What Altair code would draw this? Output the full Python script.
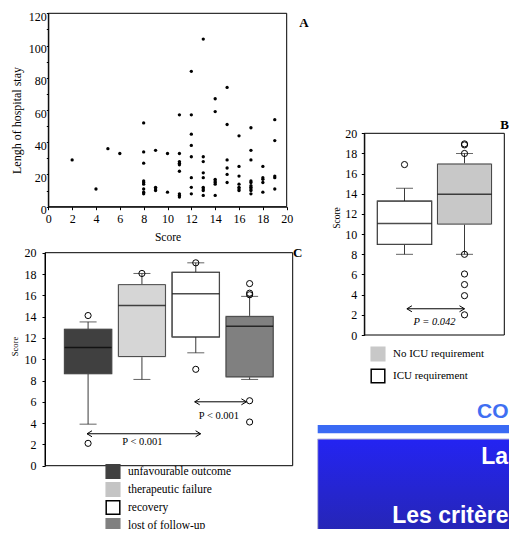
import altair as alt
import pandas as pd

W = 501
H = 521

# ---------------- Panel A : scatter ----------------
A_score = [2, 4, 5, 6,
           8, 8, 8, 8, 8, 8, 8, 8, 8,
           9, 9, 9, 9,
           10, 10,
           11, 11, 11, 11, 11, 11, 11, 11, 11,
           12, 12, 12, 12, 12, 12, 12, 12,
           13, 13, 13, 13, 13, 13, 13, 13, 13,
           14, 14, 14, 14, 14, 14, 14,
           15, 15, 15, 15, 15, 15,
           16, 16, 16, 16, 16, 16, 16,
           17, 17, 17, 17, 17, 17, 17, 17, 17, 17,
           18, 18, 18, 18, 18,
           19, 19, 19, 19, 19]
A_stay = [29, 11, 36, 33,
          52, 34, 27, 16, 15, 14, 11, 9, 8,
          35, 12, 11, 10,
          33, 9,
          57, 33, 28, 27, 26, 22, 8, 7, 6,
          84, 57, 45, 38, 31, 18, 12, 8,
          104, 31, 28, 21, 18, 12, 11, 10, 7,
          67, 59, 17, 16, 15, 14, 7,
          74, 51, 29, 24, 20, 15,
          44, 25, 19, 14, 12, 11, 10,
          49, 35, 29, 16, 15, 13, 12, 11, 10, 8,
          25, 18, 17, 15, 9,
          54, 41, 19, 18, 11]
A_xdom = [0, 20]
A_ydom = [0, 120]
A_xticks = list(range(0, 21, 1))
A_yticks = list(range(0, 121, 5))

# ---------------- Panel B : ICU boxplot ----------------
B_groups = ["ICU requirement", "No ICU requirement"]
B_q1 = [9.0, 11.0]
B_med = [11.05, 13.95]
B_q3 = [13.25, 16.95]
B_lo = [8.0, 8.0]
B_hi = [14.55, 18.0]
B_out_group = ["ICU requirement", "No ICU requirement", "No ICU requirement",
               "No ICU requirement", "No ICU requirement", "No ICU requirement",
               "No ICU requirement", "No ICU requirement", "No ICU requirement"]
B_out_val = [16.9, 18.95, 18.85, 18.0, 8.0, 6.05, 5.0, 3.9, 2.0]
B_legend_order = ["No ICU requirement", "ICU requirement"]
B_plot_fill = ["#ffffff", "#c8c8c8"]
B_fill = ["#c8c8c8", "#ffffff"]
B_stroke = ["#c8c8c8", "#000000"]
B_arrow_from = [1.04]
B_arrow_to = [2.0]
B_arrow_y = [2.6]
B_ptext = ["P = 0.042"]
B_ptext_x = [1.5]
B_ptext_y = [1.3]
B_xdom = [0.33, 2.663]
B_ydom = [0, 20]

# ---------------- Panel C : outcome boxplot ----------------
C_groups = ["unfavourable outcome", "therapeutic failure", "recovery", "lost of follow-up"]
C_q1 = [8.65, 10.25, 12.1, 8.35]
C_med = [11.1, 15.05, 16.15, 13.1]
C_q3 = [12.8, 17.0, 18.15, 14.0]
C_lo = [3.9, 8.1, 10.6, 8.1]
C_hi = [13.5, 18.05, 19.05, 15.9]
C_out_group = ["unfavourable outcome", "unfavourable outcome", "therapeutic failure",
               "recovery", "recovery", "lost of follow-up", "lost of follow-up",
               "lost of follow-up", "lost of follow-up", "lost of follow-up"]
C_out_val = [14.1, 2.1, 18.05, 19.05, 9.05, 17.1, 16.2, 16.05, 6.1, 4.1]
C_plot_fill = ["#404040", "#d6d6d6", "#ffffff", "#808080"]
C_legend_fill = ["#404040", "#c4c4c4", "#ffffff", "#808080"]
C_stroke = ["#404040", "#c4c4c4", "#000000", "#808080"]
C_arrow_from = [0.98, 2.98]
C_arrow_to = [3.09, 3.94]
C_arrow_y = [3.0, 6.0]
C_ptext = ["P < 0.001", "P < 0.001"]
C_ptext_x = [2.01, 3.43]
C_ptext_y = [2.25, 4.7]
C_xdom = [0.2, 4.8]
C_ydom = [0, 20]
S_ticks = list(range(0, 21, 1))

SERIF = "Liberation Serif"
SANS = "Liberation Sans"
EVEN = "datum.value % 2 == 0 ? datum.label : ''"


def axis(**kw):
    base = dict(grid=False, domainColor="black", tickColor="black", labelColor="black",
                titleColor="black", labelFont=SERIF, titleFont=SERIF, labelFontSize=12,
                titleFontSize=12, titleFontWeight="normal", labelOverlap=False,
                labelFlush=False, tickSize=3)
    base.update(kw)
    return alt.Axis(**base)


def sc(domain, rng):
    return alt.Scale(domain=domain, range=rng, nice=False, zero=False, padding=0)


one = pd.DataFrame({"d": [0]})

# ================= Panel A =================
xA = sc(A_xdom, [40.3, 278.7])
yA = sc(A_ydom, [198.7, 5.3])
dfA = pd.DataFrame({"score": A_score, "stay": A_stay})
frameA = pd.DataFrame({"x0": [A_xdom[0]], "x1": [A_xdom[1]], "y0": [A_ydom[0]], "y1": [A_ydom[1]]})

A_frame = alt.Chart(frameA).mark_rect(fill="transparent", stroke="black", strokeWidth=1).encode(
    x=alt.X("x0:Q", scale=xA,
            axis=axis(orient="bottom", offset=-(H - 198.7), values=A_xticks, labelExpr=EVEN,
                      title="Score", labelPadding=4, titlePadding=7, titleFontSize=11.5)),
    x2="x1:Q",
    y=alt.Y("y0:Q", scale=yA,
            axis=axis(orient="left", offset=-40.3, values=A_yticks,
                      labelExpr="datum.value % 20 == 0 ? datum.label : ''",
                      title="Lengh of hospital stay", tickSize=2, labelPadding=0,
                      labelOffset=3, titlePadding=5, titleY=112)),
    y2="y1:Q",
)
A_pts = alt.Chart(dfA).mark_circle(size=11, color="black", opacity=1).encode(
    x=alt.X("score:Q", scale=xA), y=alt.Y("stay:Q", scale=yA))
A_lab = alt.Chart(one).mark_text(text="A", font=SERIF, fontSize=13, fontWeight="bold",
                                 color="black").encode(x=alt.value(296), y=alt.value(15))
panelA = alt.layer(A_frame, A_pts, A_lab)


def box_panel(groups, q1, med, q3, lo, hi, out_group, out_val, plot_fill, legend_order,
              legend_fill, legend_stroke, xdom, ydom, xr, yr, box_w, axis_x, label, label_pos,
              arrows, ptexts, legend_xy, row_pad, leg_font, title_size, title_y, lab_pad, title_pad):
    xs = sc(xdom, xr)
    ys = sc(ydom, yr)
    idx = list(range(1, len(groups) + 1))
    pos = dict(zip(groups, idx))
    df = pd.DataFrame({"idx": idx, "group": groups, "q1": q1, "med": med, "q3": q3,
                       "lo": lo, "hi": hi, "plotfill": plot_fill})
    dfo = pd.DataFrame({"idx": [pos[g] for g in out_group], "val": out_val})
    frame = pd.DataFrame({"x0": [xdom[0]], "x1": [xdom[1]], "y0": [ydom[0]], "y1": [ydom[1]]})
    X = alt.X("idx:Q", scale=xs, axis=None)

    fr = alt.Chart(frame).mark_rect(fill="transparent", stroke="black", strokeWidth=1).encode(
        x=alt.X("x0:Q", scale=xs, axis=None), x2="x1:Q",
        y=alt.Y("y0:Q", scale=ys,
                axis=axis(orient="left", offset=-axis_x, values=S_ticks, labelExpr=EVEN,
                          title="Score", labelPadding=lab_pad, titlePadding=title_pad,
                          titleFontSize=title_size, titleY=title_y)),
        y2="y1:Q",
    )
    whisk = alt.Chart(df).mark_rule(color="#3a3a3a", strokeWidth=1).encode(
        x=X, y=alt.Y("lo:Q", scale=ys), y2="hi:Q")
    cap_lo = alt.Chart(df).mark_tick(orient="horizontal", size=17, thickness=1, color="#222222").encode(
        x=X, y=alt.Y("lo:Q", scale=ys))
    cap_hi = alt.Chart(df).mark_tick(orient="horizontal", size=17, thickness=1, color="#222222").encode(
        x=X, y=alt.Y("hi:Q", scale=ys))
    leg = dict(title=None, orient="none", legendX=legend_xy[0], legendY=legend_xy[1],
               direction="vertical", symbolType="square", symbolSize=185,
               symbolStrokeWidth=1.5, labelFont=SERIF, labelFontSize=leg_font, labelColor="black",
               rowPadding=row_pad, labelOffset=7, padding=0)
    boxes_leg = alt.Chart(df).mark_bar(size=box_w, strokeWidth=1.5, opacity=1).encode(
        x=X, y=alt.Y("q1:Q", scale=ys), y2="q3:Q",
        fill=alt.Fill("group:N", scale=alt.Scale(domain=legend_order, range=legend_fill),
                      legend=alt.Legend(**leg)),
        stroke=alt.Stroke("group:N", scale=alt.Scale(domain=legend_order, range=legend_stroke),
                          legend=alt.Legend(**leg)),
    )
    boxes_fill = alt.Chart(df).mark_bar(size=box_w, stroke="#4a4a4a", strokeWidth=1, opacity=1).encode(
        x=X, y=alt.Y("q1:Q", scale=ys), y2="q3:Q",
        color=alt.Color("plotfill:N", scale=None, legend=None),
    )
    meds = alt.Chart(df).mark_tick(orient="horizontal", size=box_w, thickness=1.5, color="black").encode(
        x=X, y=alt.Y("med:Q", scale=ys))
    outs = alt.Chart(dfo).mark_point(shape="circle", size=38, filled=False, color="black",
                                     strokeWidth=1, opacity=1).encode(
        x=X, y=alt.Y("val:Q", scale=ys))

    a_from, a_to, a_y = arrows
    dfa = pd.DataFrame({"a": a_from, "b": a_to, "y": a_y})
    arr_line = alt.Chart(dfa).mark_rule(color="black", strokeWidth=1).encode(
        x=alt.X("a:Q", scale=xs, axis=None), x2="b:Q", y=alt.Y("y:Q", scale=ys))
    arr_l = alt.Chart(dfa).mark_point(shape="M2,-1.2L0,0L2,1.2", size=25, filled=False,
                                      color="black", strokeWidth=1, opacity=1).encode(
        x=alt.X("a:Q", scale=xs, axis=None), y=alt.Y("y:Q", scale=ys))
    arr_r = alt.Chart(dfa).mark_point(shape="M-2,-1.2L0,0L-2,1.2", size=25, filled=False,
                                      color="black", strokeWidth=1, opacity=1).encode(
        x=alt.X("b:Q", scale=xs, axis=None), y=alt.Y("y:Q", scale=ys))
    p_txt, p_x, p_y, p_style = ptexts
    dfp = pd.DataFrame({"t": p_txt, "x": p_x, "y": p_y})
    ptx = alt.Chart(dfp).mark_text(font=SERIF, fontSize=10.5, fontStyle=p_style, color="black",
                                   align="center", baseline="middle").encode(
        x=alt.X("x:Q", scale=xs, axis=None), y=alt.Y("y:Q", scale=ys), text="t:N")
    lab = alt.Chart(one).mark_text(text=label, font=SERIF, fontSize=13, fontWeight="bold",
                                   color="black", align="right").encode(
        x=alt.value(label_pos[0]), y=alt.value(label_pos[1]))
    return alt.layer(fr, whisk, cap_lo, cap_hi, boxes_leg, boxes_fill, meds, outs,
                     arr_line, arr_l, arr_r, ptx, lab)


panelB = box_panel(B_groups, B_q1, B_med, B_q3, B_lo, B_hi, B_out_group, B_out_val, B_plot_fill,
                   B_legend_order, B_fill, B_stroke, B_xdom, B_ydom, [356.3, 496.3], [327.0, 125.3],
                   54, 356.3, "B", (501, 117), (B_arrow_from, B_arrow_to, B_arrow_y),
                   (B_ptext, B_ptext_x, B_ptext_y, "italic"), (362, 338), 2, 11, 9.5, 209.5, 4.5, 3)

panelC = box_panel(C_groups, C_q1, C_med, C_q3, C_lo, C_hi, C_out_group, C_out_val, C_plot_fill,
                   C_groups, C_legend_fill, C_stroke, C_xdom, C_ydom, [37.0, 284.7], [457.7, 244.7],
                   47, 37.0, "C", (294.5, 245), (C_arrow_from, C_arrow_to, C_arrow_y),
                   (C_ptext, C_ptext_x, C_ptext_y, "normal"), (97, 455.5), -2.5, 11.5, 8.5, 338, 6, 5)

# ================= Slide decoration (bottom right) =================
bar = alt.Chart(one).mark_rect(color="#3a6af4").encode(
    x=alt.value(309.7), x2=alt.value(W + 4), y=alt.value(417), y2=alt.value(425.3))
box = alt.Chart(one).mark_rect(
    fill=alt.LinearGradient(gradient="linear",
                            stops=[alt.GradientStop(color="#2424f2", offset=0),
                                   alt.GradientStop(color="#2626ae", offset=1)],
                            x1=0, x2=0, y1=0, y2=1),
    stroke="#b9b9d6", strokeWidth=1
).encode(x=alt.value(309.7), x2=alt.value(W + 4), y=alt.value(431), y2=alt.value(H + 14))
t_co = alt.Chart(one).mark_text(text="CO", font=SANS, fontSize=21, fontWeight="bold",
                                color="#3f6ff2", align="right", baseline="alphabetic").encode(
    x=alt.value(500.5), y=alt.value(410.3))
t_la = alt.Chart(one).mark_text(text="La", font=SANS, fontSize=23, fontWeight="bold",
                                color="white", align="right", baseline="alphabetic").encode(
    x=alt.value(500), y=alt.value(455.5))
t_les = alt.Chart(one).mark_text(text="Les critère", font=SANS, fontSize=23, fontWeight="bold",
                                 color="white", align="right", baseline="alphabetic").encode(
    x=alt.value(500.5), y=alt.value(515))
deco = alt.layer(bar, box, t_co, t_la, t_les)

chart = alt.layer(panelA, panelB, panelC, deco).resolve_scale(
    x="independent", y="independent", fill="independent", stroke="independent", color="independent"
).resolve_axis(x="independent", y="independent").resolve_legend(
    fill="independent", stroke="independent"
).properties(
    width=W, height=H, autosize=alt.AutoSizeParams(type="none"), padding=0,
    background="white"
).configure(font=SERIF).configure_axis(labelFont=SERIF, titleFont=SERIF).configure_legend(
    labelFont=SERIF
).configure_view(strokeOpacity=0)

chart.save("out.html", embed_options={"renderer": "svg", "actions": False})
